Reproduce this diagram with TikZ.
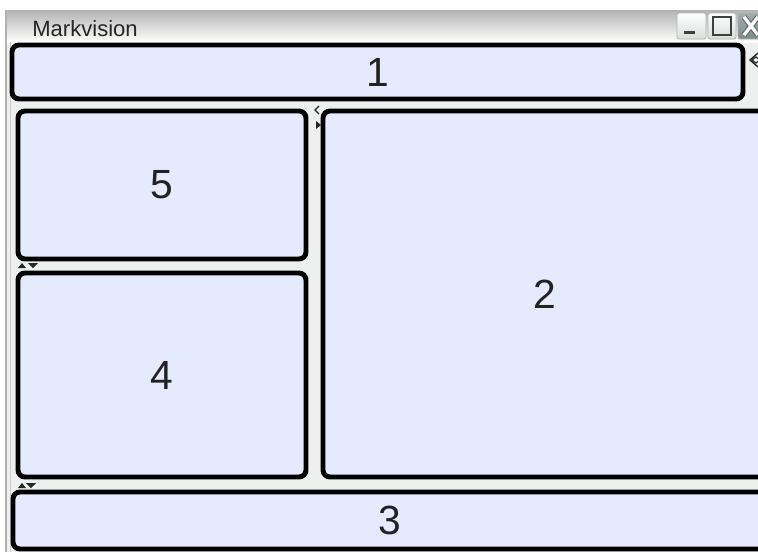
\documentclass[tikz,border=0pt]{standalone}
\usepackage{fontspec}
\setmainfont{Liberation Sans}
\usetikzlibrary{fit,positioning}

\definecolor{panelfill}{RGB}{230,234,254}
\definecolor{winbg}{RGB}{237,240,239}
\definecolor{btnface}{RGB}{216,222,220}
\definecolor{btnclose}{RGB}{122,140,136}
\definecolor{digitgray}{RGB}{34,34,34}

\begin{document}
\begin{tikzpicture}[
    x=0.025cm, y=-0.025cm,
    panel/.style={draw=black, line width=3.5pt, rounded corners=5pt, fill=panelfill, inner sep=0pt},
    digit/.style={inner sep=0pt, text=digitgray, font=\fontsize{29}{32}\selectfont},
    titletext/.style={anchor=base west, inner sep=0pt, text=black!85, font=\fontsize{15.7}{18}\selectfont},
    winbtn/.style={draw=gray!60, line width=0.6pt, rounded corners=1.5pt, top color=white, bottom color=btnface, inner sep=0pt},
    closebtn/.style={draw=gray!60, line width=0.6pt, rounded corners=1.5pt, top color=btnclose!70, bottom color=btnclose, inner sep=0pt},
    grip/.style={fill=black!85}
]
    \useasboundingbox (0,0) rectangle (758,552);
    \clip (0,0) rectangle (758,552);

    % window frame and title bar
    \fill[white] (0,0) rectangle (758,552);
    \fill[winbg] (6,40) rectangle (760,552);
    \shade[top color=black!30, bottom color=white] (6,10) rectangle (760,42);
    \draw[gray!60, line width=1pt] (6,10) -- (6,552);
    \draw[gray!40, line width=0.6pt] (10,42) -- (10,552);
    \node[titletext] (title) at (32,36) {Markvision};

    % window buttons
    \node[winbtn, fit={(677,13) (706,39)}] (btnmin) {};
    \node[winbtn, fit={(708,13) (736,39)}] (btnmax) {};
    \node[closebtn, fit={(738,13) (766,39)}] (btnclose) {};
    \fill[black!75] (684,31) rectangle (695,34);
    \draw[black!75, line width=1.6pt] (713,17) rectangle (731,35);
    \draw[black!60, line width=4pt] (744,17) -- (758,35) (744,35) -- (758,17);
    \draw[white, line width=2.4pt] (744,17) -- (758,35) (744,35) -- (758,17);

    % panels
    \node[panel, fit={(12,45) (743,99)}] (pane1) {};
    \node[panel, fit={(323,111) (766,477)}] (pane2) {};
    \node[panel, fit={(13,492) (766,549)}] (pane3) {};
    \node[panel, fit={(18,111) (306,259)}] (pane5) {};
    \node[panel, fit={(18,273) (306,477)}] (pane4) {};

    \node[digit] (num1) at (pane1.center) {1};
    \node[digit] (num2) at (pane2.center) {2};
    \node[digit] (num3) at (pane3.center) {3};
    \node[digit] (num4) at (pane4.center) {4};
    \node[digit] (num5) at (pane5.center) {5};

    % splitter grips
    \fill[grip] (18,268) -- (22,263) -- (26,268) -- cycle;
    \fill[grip] (28,263) -- (38,263) -- (33,268) -- cycle;
    \fill[grip] (18,488) -- (22,483) -- (26,488) -- cycle;
    \fill[grip] (26,483) -- (36,483) -- (31,488) -- cycle;
    \fill[grip] (316,121) -- (321,125) -- (316,129) -- cycle;
    \draw[black!85, line width=0.8pt] (319,106) -- (315,110) -- (319,114);
    \draw[black!85, line width=1pt] (758,53) -- (750,60) -- (758,67);
    \draw[black!85, line width=0.8pt] (752,60) -- (756,57) -- (760,60) -- (756,63) -- cycle;
\end{tikzpicture}
\end{document}
